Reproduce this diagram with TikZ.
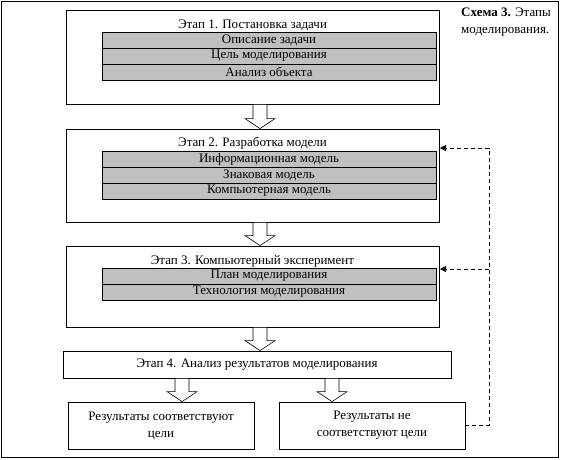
\documentclass[tikz,border=0pt]{standalone}
\usepackage{fontspec}
\setmainfont{Liberation Serif}
\usetikzlibrary{arrows.meta, calc}

\definecolor{rowgrey}{HTML}{C0C0C0}

% hollow block arrow from one node down to another
\newcommand{\blockarrow}[3]{%
    \draw[blockarr] let \p1=(#2.south), \p2=(#3.north) in
        ({#1pt-7pt},\y1) -- ({#1pt+7pt},\y1) -- ({#1pt+7pt},{\y2+10pt})
        -- ({#1pt+15pt},{\y2+10pt}) -- (#1pt,\y2) -- ({#1pt-15pt},{\y2+10pt})
        -- ({#1pt-7pt},{\y2+10pt}) -- cycle;}

\begin{document}
\begin{tikzpicture}[x=1pt, y=-1pt, font=\fontsize{13}{17}\selectfont,
    stage/.style={draw, line width=0.8pt, minimum width=373pt, inner sep=0pt},
    title/.style={inner sep=0pt},
    row/.style={draw, line width=0.8pt, fill=rowgrey, minimum width=334pt, minimum height=16pt, inner sep=0pt},
    result/.style={draw, line width=0.8pt, minimum width=186pt, minimum height=47pt, inner sep=0pt, align=center},
    blockarr/.style={draw, line width=0.6pt, fill=white},
    fback/.style={dashed, dash pattern=on 4pt off 3pt, line width=0.7pt, -{Triangle[length=6pt, width=6pt]}}]
    \useasboundingbox (0,0) rectangle (570,459);
    \draw[line width=0.8pt] (1,1) rectangle (558,457);

    \node[anchor=north west, align=left, inner sep=0pt] (cap) at (461,8) {\textbf{Схема 3.} Этапы\\моделирования.};

    \node[stage, minimum height=94pt] (b1) at (252.5,57) {};
    \node[title] (t1) at (252.5,25) {Этап 1. Постановка задачи};
    \node[row] (r11) at (269,40) {Описание задачи};
    \node[row] (r12) at (269,56) {Цель моделирования};
    \node[row] (r13) at (269,72) {Анализ объекта};

    \node[stage, minimum height=93pt] (b2) at (252.5,175.5) {};
    \node[title] (t2) at (252.5,143) {Этап 2. Разработка модели};
    \node[row] (r21) at (269,159) {Информационная модель};
    \node[row] (r22) at (269,175) {Знаковая модель};
    \node[row] (r23) at (269,191) {Компьютерная модель};

    \node[stage, minimum height=81pt] (b3) at (252.5,286.5) {};
    \node[title] (t3) at (252.5,261) {Этап 3. Компьютерный эксперимент};
    \node[row] (r31) at (269,276) {План моделирования};
    \node[row] (r32) at (269,292) {Технология моделирования};

    \node[stage, minimum width=388pt, minimum height=27pt] (b4) at (257,364.5) {Этап 4. Анализ результатов моделирования};

    \node[result] (res1) at (161,425.5) {Результаты соответствуют\\цели};
    \node[result] (res2) at (372,425.5) {Результаты не\\соответствуют цели};

    \blockarrow{260}{b1}{b2}
    \blockarrow{260}{b2}{b3}
    \blockarrow{260}{b3}{b4}
    \blockarrow{182}{b4}{res1}
    \blockarrow{332}{b4}{res2}

    \coordinate (fbtop) at (489,148);
    \coordinate (in2) at (440,148);
    \coordinate (in3) at (440,269);
    \draw[fback] (res2.east) -| (fbtop) -- (in2);
    \draw[fback] (in3 -| fbtop) -- (in3);
\end{tikzpicture}
\end{document}
